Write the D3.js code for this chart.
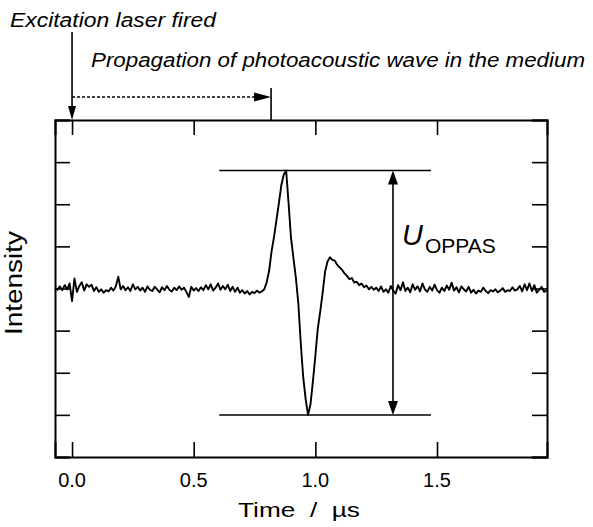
<!DOCTYPE html>
<html>
<head>
<meta charset="utf-8">
<script src="https://cdn.jsdelivr.net/npm/d3@7"></script>
<style>
	body { margin: 0; background: #fff; }
	text { font-family: "Liberation Sans", Arial, sans-serif; fill: #000; }
</style>
</head>
<body>
<svg class="graph" width="593" height="527"></svg>
<script>
//sampled trace, one value every timeStep microseconds starting at timeStart
const timeStart = -0.07;
const timeStep = 0.01;
const intensity = [
	0.02, -0.03, 0.05, -0.04, 0.08, -0.02, 0.12, -0.30, 0.24, -0.08,
	0.06, 0.15, -0.05, 0.10, 0.04, 0.09, -0.06, 0.03, -0.08, -0.02,
	-0.10, -0.04, -0.07, 0.02, -0.05, 0.05, 0.28, -0.02, 0.06, -0.04,
	0.03, -0.06, 0.10, -0.02, 0.04, -0.05, 0.02, -0.08, 0.05, -0.03,
	-0.06, 0.04, -0.02, -0.09, 0.03, -0.04, 0.06, -0.03, -0.07, 0.02,
	-0.04, 0.05, -0.03, 0.02, -0.08, -0.20, 0.04, -0.05, 0.01, -0.06,
	0.03, -0.04, 0.08, -0.02, 0.10, -0.05, 0.02, 0.12, -0.03, 0.06,
	-0.02, 0.09, -0.06, 0.04, -0.08, 0.02, -0.10, -0.04, -0.12, -0.06,
	-0.14, -0.08, -0.11, -0.05, -0.10, -0.07, -0.02, 0.15, 0.42, 0.88,
	1.22, 1.62, 2.02, 2.45, 2.70, 2.80, 2.02, 1.20, 0.72, 0.25,
	-0.35, -1.30, -2.10, -2.62, -3.00, -2.75, -2.20, -1.60, -0.95, -0.55,
	-0.10, 0.40, 0.64, 0.74, 0.68, 0.66, 0.56, 0.50, 0.44, 0.36,
	0.30, 0.22, 0.25, 0.14, 0.16, 0.08, 0.12, 0.03, 0.07, -0.02,
	0.04, -0.03, 0.02, -0.06, 0.05, -0.08, -0.02, -0.10, 0.06, -0.05,
	-0.12, 0.08, -0.04, 0.15, -0.06, 0.02, -0.09, 0.10, -0.03, 0.05,
	-0.07, 0.12, -0.02, -0.08, 0.04, -0.05, 0.09, -0.04, -0.10, 0.02,
	-0.06, 0.07, -0.03, 0.14, -0.05, 0.03, -0.09, 0.05, -0.02, -0.07,
	0.04, -0.10, -0.03, -0.12, -0.05, -0.08, 0.02, -0.06, -0.11, -0.04,
	-0.07, -0.02, -0.09, -0.05, 0.01, -0.08, -0.04, -0.06, 0.03, -0.05,
	-0.02, 0.06, -0.07, 0.10, -0.04, 0.12, -0.06, 0.08, -0.10, -0.03,
	0.04, -0.08, -0.05
];

const xTicks = [0, 0.5, 1.0, 1.5];
const yTicks = [-4, -3, -2, -1, 0, 1, 2, 3, 4];

//annotation values, in data units
const laserTime = 0;
const propagationEnd = 0.818;
const peakLevel = 2.8;
const troughLevel = -3.0;
const levelSpan = [0.605, 1.475];
const arrowTime = 1.319;

var svg = d3.select(".graph");

const plotLeft = 55, plotRight = 547, plotTop = 120, plotBottom = 457;

var x = d3.scaleLinear().domain([-0.07, 1.952]).range([plotLeft, plotRight]);
var y = d3.scaleLinear().domain([-4, 4]).range([plotBottom, plotTop]);

//frame with inward ticks on all four sides
const tickLen = 15;
svg.append("g").attr("transform", "translate(0," + plotBottom + ")")
	.call(d3.axisTop(x).tickValues(xTicks).tickSize(tickLen).tickFormat(""));
svg.append("g").attr("transform", "translate(0," + plotTop + ")")
	.call(d3.axisBottom(x).tickValues(xTicks).tickSize(tickLen).tickFormat(""));
svg.append("g").attr("transform", "translate(" + plotLeft + ",0)")
	.call(d3.axisRight(y).tickValues(yTicks).tickSize(tickLen).tickFormat(""));
svg.append("g").attr("transform", "translate(" + plotRight + ",0)")
	.call(d3.axisLeft(y).tickValues(yTicks).tickSize(tickLen).tickFormat(""));

svg.selectAll(".domain").attr("stroke", "#000").attr("stroke-width", 2);
svg.selectAll(".tick line").attr("stroke", "#000").attr("stroke-width", 1.6);

//tick labels under the frame
svg.selectAll(".xlabel")
	.data(xTicks)
	.enter()
	.append("text")
	.attr("class", "xlabel")
	.attr("x", function (d) { return x(d); })
	.attr("y", 487)
	.attr("text-anchor", "middle")
	.attr("font-size", 20)
	.text(function (d) { return d3.format(".1f")(d); });

svg.append("text")
	.attr("x", 238)
	.attr("y", 517)
	.attr("font-size", 20)
	.attr("textLength", 122)
	.attr("lengthAdjust", "spacingAndGlyphs")
	.style("white-space", "pre")
	.text("Time  /  \u00b5s");

svg.append("text")
	.attr("transform", "translate(22,283) rotate(-90)")
	.attr("text-anchor", "middle")
	.attr("font-size", 23)
	.attr("textLength", 104)
	.attr("lengthAdjust", "spacingAndGlyphs")
	.text("Intensity");

//the trace
var line = d3.line()
	.x(function (d, i) { return x(timeStart + i * timeStep); })
	.y(function (d) { return y(d); });

svg.append("path")
	.datum(intensity)
	.attr("fill", "none")
	.attr("stroke", "#000")
	.attr("stroke-width", 1.9)
	.attr("stroke-linejoin", "round")
	.attr("d", line);

//peak and trough levels
svg.selectAll(".level")
	.data([peakLevel, troughLevel])
	.enter()
	.append("line")
	.attr("class", "level")
	.attr("x1", x(levelSpan[0]))
	.attr("x2", x(levelSpan[1]))
	.attr("y1", function (d) { return y(d); })
	.attr("y2", function (d) { return y(d); })
	.attr("stroke", "#000")
	.attr("stroke-width", 1.5);

//filled arrow head, tip at (tx, ty), pointing along angle (deg)
function arrowHead(tx, ty, angle, len, half) {
	svg.append("path")
		.attr("d", "M0,0L" + (-len) + "," + (-half) + "L" + (-len) + "," + half + "Z")
		.attr("transform", "translate(" + tx + "," + ty + ") rotate(" + angle + ")")
		.attr("fill", "#000");
}

//double arrow for the peak to peak amplitude
const ax = x(arrowTime);
svg.append("line")
	.attr("x1", ax).attr("x2", ax)
	.attr("y1", y(peakLevel) + 6).attr("y2", y(troughLevel) - 6)
	.attr("stroke", "#000").attr("stroke-width", 1.6);
arrowHead(ax, y(peakLevel), -90, 14, 5);
arrowHead(ax, y(troughLevel), 90, 14, 5);

var uLabel = svg.append("text").attr("x", 402).attr("y", 245);
uLabel.append("tspan").attr("font-size", 29).attr("font-style", "italic").text("U");
uLabel.append("tspan").attr("font-size", 21).attr("dx", 2).attr("dy", 8).text("OPPAS");

//laser fired marker
const lx = x(laserTime);
svg.append("line")
	.attr("x1", lx).attr("x2", lx)
	.attr("y1", 32).attr("y2", plotTop - 8)
	.attr("stroke", "#000").attr("stroke-width", 1.6);
arrowHead(lx, plotTop, 90, 14, 4);

svg.append("text")
	.attr("x", 10)
	.attr("y", 27)
	.attr("font-size", 20)
	.attr("font-style", "italic")
	.attr("textLength", 206)
	.attr("lengthAdjust", "spacingAndGlyphs")
	.text("Excitation laser fired");

//propagation arrow, dotted
const px = x(propagationEnd);
svg.append("line")
	.attr("x1", lx).attr("x2", px - 12)
	.attr("y1", 97).attr("y2", 97)
	.attr("stroke", "#000").attr("stroke-width", 1.4)
	.attr("stroke-dasharray", "3,2");
arrowHead(px, 97, 0, 17, 4.5);
svg.append("line")
	.attr("x1", px).attr("x2", px)
	.attr("y1", 88).attr("y2", plotTop)
	.attr("stroke", "#000").attr("stroke-width", 1.6);

svg.append("text")
	.attr("x", 91)
	.attr("y", 67)
	.attr("font-size", 20)
	.attr("font-style", "italic")
	.attr("textLength", 494)
	.attr("lengthAdjust", "spacingAndGlyphs")
	.text("Propagation of photoacoustic wave in the medium");
</script>
</body>
</html>
